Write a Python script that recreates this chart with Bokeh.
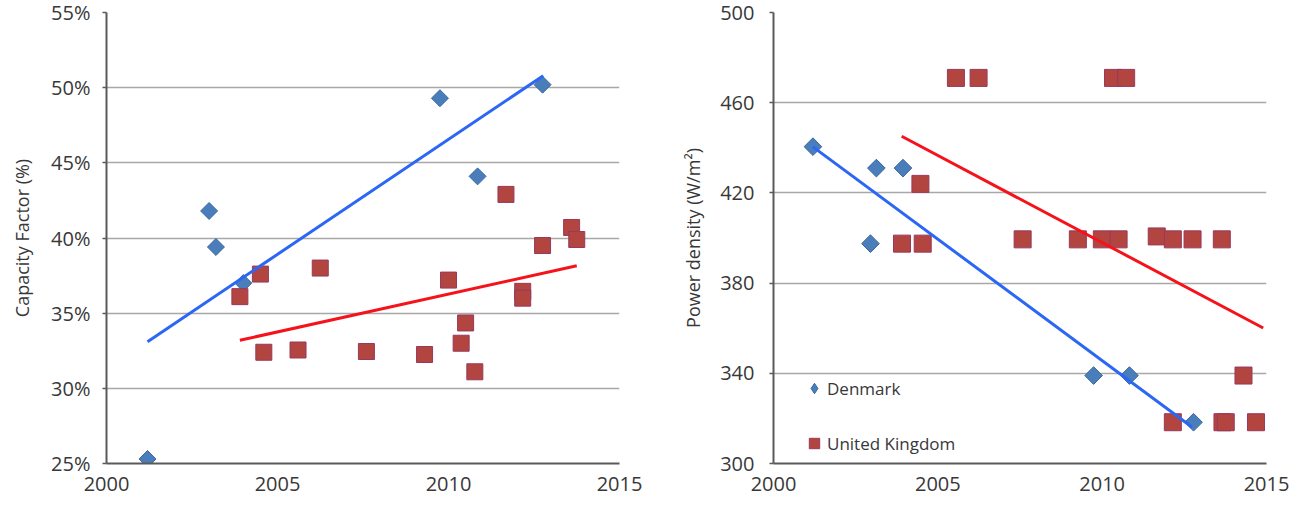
import numpy as np
from bokeh.plotting import figure
from bokeh.layouts import row
from bokeh.models import (Range1d, FixedTicker, PrintfTickFormatter, Legend, LegendItem)
from bokeh.embed import file_html
from bokeh.resources import INLINE

# ---- Capacity factor (%) by commissioning year ----
dk_cf_year = [2001.2, 2003.0, 2003.2, 2004.0, 2009.75, 2010.85, 2012.75]
dk_cf = [25.3, 41.8, 39.4, 37.0, 49.3, 44.1, 50.2]

uk_cf_year = [2003.9, 2004.5, 2004.6, 2005.6, 2006.25, 2007.6, 2009.3, 2010.0, 2010.37,
              2010.5, 2010.77, 2011.68, 2012.17, 2012.17, 2012.75, 2013.6, 2013.75]
uk_cf = [36.1, 37.6, 32.4, 32.55, 38.0, 32.45, 32.25, 37.2, 33.0,
         34.35, 31.1, 42.9, 36.45, 36.0, 39.5, 40.7, 39.9]

# linear trend lines (end points)
dk_cf_trend_year = [2001.2, 2012.77]
dk_cf_trend = [33.1, 50.8]
uk_cf_trend_year = [2003.9, 2013.75]
uk_cf_trend = [33.2, 38.15]

# ---- Power density (W/m2) by commissioning year ----
dk_pd_year = [2001.2, 2002.95, 2003.13, 2003.94, 2009.74, 2010.83, 2012.78]
dk_pd = [440.5, 397.5, 431.0, 431.0, 339.0, 339.0, 318.3]

uk_pd_year = [2003.91, 2004.47, 2004.54, 2005.55, 2006.24, 2007.58, 2009.26, 2009.99,
              2010.33, 2010.5, 2010.73, 2011.66, 2012.15, 2012.15, 2012.75, 2013.64,
              2013.66, 2013.76, 2014.3, 2014.68]
uk_pd = [397.5, 424.0, 397.5, 471.0, 471.0, 399.4, 399.4, 399.4,
         471.0, 399.4, 471.0, 400.7, 399.4, 318.3, 399.4, 399.4,
         318.3, 318.3, 339.0, 318.3]

dk_pd_trend_year = [2001.2, 2012.74]
dk_pd_trend = [440.4, 316.1]
uk_pd_trend_year = [2003.9, 2014.9]
uk_pd_trend = [445.1, 360.1]

x_ticks = [2000, 2005, 2010, 2015]
cf_ticks = [25, 30, 35, 40, 45, 50, 55]
pd_ticks = [300, 340, 380, 420, 460, 500]

FONT = "Open Sans"
TEXT = "#383838"
AXIS = "#5a5a5a"
GRID = "#a8a8a8"
DK_FILL, DK_LINE = "#4A7EBB", "#3C679C"
UK_FILL, UK_LINE = "#B2453F", "#98395E"
BLUE, RED = "#2B67F4", "#F5121A"


def style(p, yticks, ylabel, label_standoff, y_lab_standoff):
    p.xaxis.ticker = FixedTicker(ticks=x_ticks)
    p.yaxis.ticker = FixedTicker(ticks=yticks)
    p.xgrid.visible = False
    p.ygrid.grid_line_color = GRID
    p.ygrid.grid_line_width = 1.5
    p.outline_line_color = None
    for ax in (p.xaxis[0], p.yaxis[0]):
        ax.axis_line_color = AXIS
        ax.axis_line_width = 2
        ax.major_tick_line_color = AXIS
        ax.major_tick_line_width = 1.5
        ax.minor_tick_line_color = None
        ax.major_label_text_font = FONT
        ax.major_label_text_font_size = "20px"
        ax.major_label_text_color = TEXT
    p.xaxis.major_tick_out = 0
    p.xaxis.major_tick_in = 0
    p.xaxis.major_label_standoff = label_standoff
    p.yaxis.major_tick_out = 4
    p.yaxis.major_tick_in = 0
    p.yaxis.major_label_standoff = y_lab_standoff
    p.yaxis.axis_label = ylabel
    p.yaxis.axis_label_text_font = FONT
    p.yaxis.axis_label_text_font_size = "18px"
    p.yaxis.axis_label_text_font_style = "normal"
    p.yaxis.axis_label_text_color = TEXT


COMMON = dict(height=509, margin=(-3, 0, 0, 0), output_backend="svg",
              toolbar_location=None, min_border_top=15, min_border_bottom=43)

# ---- left: capacity factor ----
p1 = figure(width=650, x_range=Range1d(2000, 2015), y_range=Range1d(25, 55),
            min_border_left=106, min_border_right=31, **COMMON)
style(p1, cf_ticks, "Capacity Factor (%)", 13, 12)
p1.yaxis.formatter = PrintfTickFormatter(format="%d%%")
p1.yaxis.axis_label_standoff = 14

p1.scatter(dk_cf_year, dk_cf, marker="square", angle=np.pi / 4, size=12,
           fill_color=DK_FILL, line_color=DK_LINE, line_width=1)
p1.scatter(uk_cf_year, uk_cf, marker="square", size=16,
           fill_color=UK_FILL, line_color=UK_LINE, line_width=1)
p1.line(dk_cf_trend_year, dk_cf_trend, line_color=BLUE, line_width=3)
p1.line(uk_cf_trend_year, uk_cf_trend, line_color=RED, line_width=3)

# ---- right: power density ----
p2 = figure(width=649, x_range=Range1d(2000, 2015), y_range=Range1d(300, 500),
            min_border_left=123, min_border_right=33, **COMMON)
style(p2, pd_ticks, "Power density (W/m\u00b2)", 13, 15)
p2.yaxis.axis_label_standoff = 12

# diamond glyph used as the legend swatch, sits beneath the rotated squares
dk_key = p2.scatter(dk_pd_year, dk_pd, marker="diamond", size=10,
                    fill_color=DK_FILL, line_color=DK_LINE, line_width=1)
p2.scatter(dk_pd_year, dk_pd, marker="square", angle=np.pi / 4, size=12.5,
           fill_color=DK_FILL, line_color=DK_LINE, line_width=1)
uk2 = p2.scatter(uk_pd_year, uk_pd, marker="square", size=17,
                 fill_color=UK_FILL, line_color=UK_LINE, line_width=1)
p2.line(dk_pd_trend_year, dk_pd_trend, line_color=BLUE, line_width=3)
p2.line(uk_pd_trend_year, uk_pd_trend, line_color=RED, line_width=3)

legend = Legend(items=[LegendItem(label="Denmark", renderers=[dk_key]),
                       LegendItem(label="United Kingdom", renderers=[uk2])],
                location=(28, 5), orientation="vertical",
                glyph_width=26, glyph_height=30, spacing=25,
                label_standoff=0, padding=0, margin=0,
                border_line_color=None, background_fill_alpha=0,
                label_text_font=FONT, label_text_font_size="17px",
                label_text_color=TEXT)
p2.add_layout(legend)

layout = row(p1, p2)
open("out.html", "w").write(file_html(layout, INLINE))
